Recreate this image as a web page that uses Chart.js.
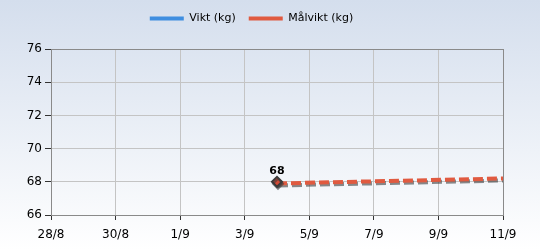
<!DOCTYPE html>
<html><head><meta charset="utf-8">
<script src="https://cdn.jsdelivr.net/npm/chart.js@4/dist/chart.umd.min.js"></script>
<style>html,body{margin:0;padding:0;background:#fff}#wrap{width:540px;height:250px}</style>
</head><body><div id="wrap"><canvas id="c" width="540" height="250"></canvas></div>
<script>
const xLabels = ["28/8","30/8","1/9","3/9","5/9","7/9","9/9","11/9"];
const viktDays = [7];
const viktValues = [68];
const malDays = [7, 14];
const malValues = [67.9, 68.2];
const yTicks = [66, 68, 70, 72, 74, 76];

const bgPlugin = {
  id: 'bg',
  afterInit(chart) {
    const lg = chart.legend;
    if (lg) { const orig = lg.fit; lg.fit = function () { orig.call(this); this.height += 15; }; }
  },
  beforeDraw(chart) {
    const ctx = chart.ctx;
    const g = ctx.createLinearGradient(0, 0, 0, chart.height);
    g.addColorStop(0, '#d4deed');
    g.addColorStop(1, '#ffffff');
    ctx.save(); ctx.fillStyle = g; ctx.fillRect(0, 0, chart.width, chart.height); ctx.restore();
  },
  afterDatasetsDraw(chart) {
    const a = chart.chartArea, ctx = chart.ctx;
    ctx.save(); ctx.strokeStyle = '#8a8a8a'; ctx.lineWidth = 1;
    ctx.strokeRect(Math.round(a.left) + 0.5, Math.round(a.top) + 0.5, Math.round(a.right - a.left), Math.round(a.bottom - a.top));
    const meta = chart.getDatasetMeta(0);
    ctx.fillStyle = '#000'; ctx.font = 'bold 11px "DejaVu Sans"'; ctx.textAlign = 'center'; ctx.textBaseline = 'bottom';
    meta.data.forEach((p, i) => ctx.fillText(String(viktValues[i]), p.x, p.y - 5));
    ctx.restore();
  }
};
const shadowPlugin = {
  id: 'shadow',
  beforeDatasetDraw(chart) {
    const ctx = chart.ctx; ctx.save();
    ctx.shadowColor = 'rgba(60,60,60,0.6)'; ctx.shadowOffsetX = 1; ctx.shadowOffsetY = 2; ctx.shadowBlur = 0;
  },
  afterDatasetDraw(chart) { chart.ctx.restore(); }
};

new Chart(document.getElementById('c'), {
  type: 'scatter',
  data: {
    datasets: [
      { label: 'Vikt (kg)', data: viktDays.map((d, i) => ({x: d, y: viktValues[i]})), showLine: true,
        borderColor: '#3f8ee0', backgroundColor: '#3f8ee0', borderWidth: 3,
        pointStyle: 'rectRot', pointRadius: 5, pointBackgroundColor: '#d24a36', pointBorderColor: '#3a3a3a', pointBorderWidth: 2, order: 0 },
      { label: 'Målvikt (kg)', data: malDays.map((d, i) => ({x: d, y: malValues[i]})), showLine: true,
        borderColor: '#e05a40', backgroundColor: '#e05a40', borderWidth: 4, borderDash: [10, 4],
        pointRadius: 0, order: 1 }
    ]
  },
  options: {
    responsive: false, animation: false, events: [],
    layout: { padding: { left: 0, right: 37, top: 0, bottom: 0 } },
    plugins: {
      tooltip: { enabled: false },
      legend: {
        position: 'top',
        labels: {
          color: '#000', font: { family: 'DejaVu Sans', size: 11 }, boxWidth: 34, boxHeight: 4, padding: 13,
          generateLabels(chart) {
            return chart.data.datasets.map((ds, i) => ({ text: ds.label, fillStyle: ds.borderColor, strokeStyle: ds.borderColor, lineWidth: 0, datasetIndex: i, fontColor: '#000' }));
          }
        }
      }
    },
    scales: {
      x: {
        type: 'linear', min: 0, max: 14,
        afterBuildTicks(s) { s.ticks = xLabels.map((_, i) => ({ value: i * 2 })); },
        afterFit(s) { s.height = 35; },
        ticks: { callback: (v) => xLabels[v / 2], color: '#000', font: { family: 'DejaVu Sans', size: 12 }, maxRotation: 0, autoSkip: false, padding: 8 },
        grid: { color: '#c4c4c4', tickColor: '#333', tickLength: 5, drawTicks: true },
        border: { color: '#777' }
      },
      y: {
        min: 66, max: 76,
        afterBuildTicks(s) { s.ticks = yTicks.map(v => ({ value: v })); },
        afterFit(s) { s.width = 51; },
        ticks: { color: '#000', font: { family: 'DejaVu Sans', size: 12 }, padding: 3 },
        grid: { color: '#c4c4c4', tickColor: '#333', tickLength: 6 },
        border: { color: '#777' }
      }
    }
  },
  plugins: [bgPlugin, shadowPlugin]
});
</script></body></html>
